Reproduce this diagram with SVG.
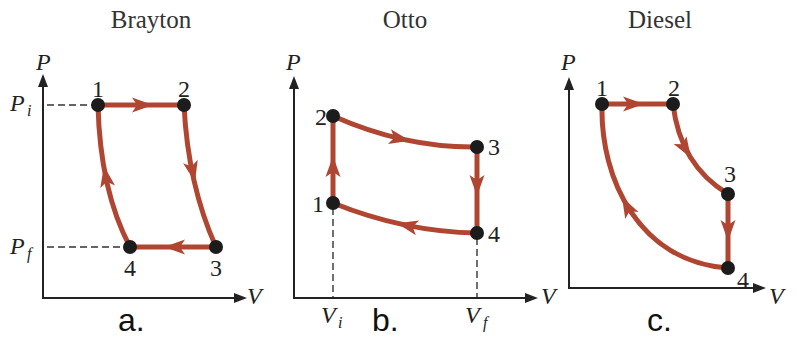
<svg xmlns="http://www.w3.org/2000/svg" xmlns:xlink="http://www.w3.org/1999/xlink" width="798" height="339" viewBox="0 0 798 339">
<style>
.ax{fill:none;stroke:#222;stroke-width:2}
.dash{fill:none;stroke:#333;stroke-width:1.4;stroke-dasharray:7 4}
.cur{fill:none;stroke:#b04631;stroke-width:5;stroke-linecap:round}
.ah{fill:#b04631}
.dot{fill:#1c1c1c}
.ttl{font-family:"Liberation Serif",serif;font-size:25px;fill:#333;text-anchor:middle}
.num{font-family:"Liberation Serif",serif;font-size:24px;fill:#222;text-anchor:middle}
.var{font-family:"Liberation Serif",serif;font-size:24px;font-style:italic;fill:#222}
.sub{font-family:"Liberation Serif",serif;font-size:16px;font-style:italic;fill:#222}
.lab{font-family:"Liberation Sans",Arial,sans-serif;font-size:32px;fill:#111}
</style>
<defs>
<path id="ah" d="M0,0 L-21,-7.5 L-16,0 L-21,7.5 Z"/>
<path id="axh" d="M0,0 L-13,-5 L-13,5 Z" fill="#222"/>
</defs>

<!-- titles -->
<text class="ttl" x="151" y="28">Brayton</text>
<text class="ttl" x="405" y="28">Otto</text>
<text class="ttl" x="660" y="28">Diesel</text>

<!-- panel a -->
<g id="axes-a">
<path class="ax" d="M43,76 L43,298 L236,298"/>
<use href="#axh" transform="translate(43,74) rotate(-90)"/>
<use href="#axh" transform="translate(247,298)"/>
<text class="var" x="36" y="70">P</text>
<text class="var" x="247" y="304">V</text>
<text class="var" x="10" y="111">P</text><text class="sub" x="27" y="116">i</text>
<text class="var" x="10" y="254">P</text><text class="sub" x="27" y="259">f</text>
<path class="dash" d="M47,105 L92,105 M47,247 L124,247"/>
<text class="lab" x="118" y="331">a.</text>
</g>

<!-- panel b -->
<g id="axes-b">
<path class="ax" d="M294,79 L294,298 L526,298"/>
<use href="#axh" transform="translate(294,76) rotate(-90)"/>
<use href="#axh" transform="translate(538,298)"/>
<text class="var" x="286" y="70">P</text>
<text class="var" x="541" y="304">V</text>
<path class="dash" d="M333,208 L333,297 M477,238 L477,297"/>
<text class="var" x="321" y="323">V</text><text class="sub" x="338" y="328">i</text>
<text class="var" x="465" y="323">V</text><text class="sub" x="483" y="328">f</text>
<text class="lab" x="372" y="331">b.</text>
</g>

<!-- panel c -->
<g id="axes-c">
<path class="ax" d="M569,80 L569,288 L754,288"/>
<use href="#axh" transform="translate(569,77) rotate(-90)"/>
<use href="#axh" transform="translate(766,288)"/>
<text class="var" x="561" y="70">P</text>
<text class="var" x="769" y="304">V</text>
<text class="lab" x="647" y="331">c.</text>
</g>

<g id="connectors">
<!-- a -->
<path class="cur" d="M98,105 L184,105"/>
<path class="cur" d="M184,105 Q188,185 216,247"/>
<path class="cur" d="M216,247 L130,247"/>
<path class="cur" d="M130,247 Q100,190 98,105"/>
<use class="ah" href="#ah" transform="translate(153,105)"/>
<use class="ah" href="#ah" transform="translate(195,182) rotate(77.3)"/>
<use class="ah" href="#ah" transform="translate(164,247) rotate(180)"/>
<use class="ah" href="#ah" transform="translate(104,166) rotate(-100)"/>
<!-- b -->
<path class="cur" d="M333,203 L333,116"/>
<path class="cur" d="M333,116 Q405,148 477,147"/>
<path class="cur" d="M477,147 L477,233"/>
<path class="cur" d="M477,233 Q405,232 333,203"/>
<use class="ah" href="#ah" transform="translate(333,156) rotate(-90)"/>
<use class="ah" href="#ah" transform="translate(410,140.8) rotate(11.4)"/>
<use class="ah" href="#ah" transform="translate(477,196) rotate(90)"/>
<use class="ah" href="#ah" transform="translate(397,223.2) rotate(-167.2)"/>
<!-- c -->
<path class="cur" d="M602,104 L673,104"/>
<path class="cur" d="M673,104 Q680,165 728,194"/>
<path class="cur" d="M728,194 L728,268"/>
<path class="cur" d="M728,268 C640,262 600,180 602,104"/>
<use class="ah" href="#ah" transform="translate(644,104)"/>
<use class="ah" href="#ah" transform="translate(691,158) rotate(58.6)"/>
<use class="ah" href="#ah" transform="translate(728,241) rotate(90)"/>
<use class="ah" href="#ah" transform="translate(622,197) rotate(-118)"/>
</g>

<g id="a1"><circle class="dot" cx="98" cy="105" r="7"/><text class="num" x="98" y="97">1</text></g>
<g id="a2"><circle class="dot" cx="184" cy="105" r="7"/><text class="num" x="184" y="97">2</text></g>
<g id="a3"><circle class="dot" cx="216" cy="247" r="7"/><text class="num" x="216" y="276">3</text></g>
<g id="a4"><circle class="dot" cx="130" cy="247" r="7"/><text class="num" x="130" y="276">4</text></g>

<g id="b1"><circle class="dot" cx="333" cy="203" r="7"/><text class="num" x="318" y="212">1</text></g>
<g id="b2"><circle class="dot" cx="333" cy="116" r="7"/><text class="num" x="321" y="125">2</text></g>
<g id="b3"><circle class="dot" cx="477" cy="147" r="7"/><text class="num" x="494" y="155">3</text></g>
<g id="b4"><circle class="dot" cx="477" cy="233" r="7"/><text class="num" x="494" y="242">4</text></g>

<g id="c1"><circle class="dot" cx="602" cy="104" r="7"/><text class="num" x="602" y="96">1</text></g>
<g id="c2"><circle class="dot" cx="673" cy="104" r="7"/><text class="num" x="674" y="96">2</text></g>
<g id="c3"><circle class="dot" cx="728" cy="194" r="7"/><text class="num" x="730" y="182">3</text></g>
<g id="c4"><circle class="dot" cx="728" cy="268" r="7"/><text class="num" x="743" y="288">4</text></g>
</svg>
